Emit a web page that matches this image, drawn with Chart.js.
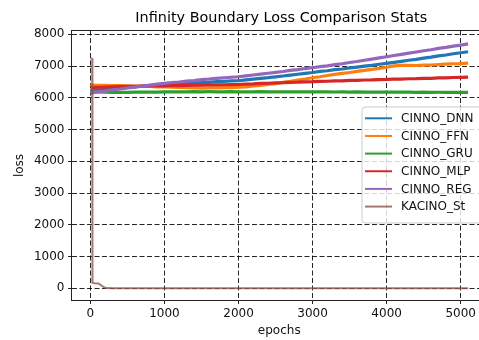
<!DOCTYPE html>
<html>
<head>
<meta charset="utf-8">
<script src="https://cdn.jsdelivr.net/npm/chart.js@4.4.0/dist/chart.umd.min.js"></script>
<style>
  html, body { margin: 0; padding: 0; background: #fff; overflow: hidden; width: 479px; height: 340px; }
  #wrap { position: absolute; left: 0; top: 0; width: 500px; height: 340px; }
</style>
</head>
<body>
<div id="wrap"><canvas id="c" width="500" height="340"></canvas></div>
<script>
const titleText = "Infinity Boundary Loss Comparison Stats";
const xLabel = "epochs";
const yLabel = "loss";
const seriesNames = ["CINNO_DNN", "CINNO_FFN", "CINNO_GRU", "CINNO_MLP", "CINNO_REG", "KACINO_St"];
const seriesColors = ["#1f77b4", "#ff7f0e", "#2ca02c", "#d62728", "#9467bd", "rgba(140,86,75,0.8)"];
const xTicks = [0, 1000, 2000, 3000, 4000, 5000];
const yTicks = [0, 1000, 2000, 3000, 4000, 5000, 6000, 7000, 8000];

const epochs = [
  0, 100, 200, 300, 400, 500, 600, 700, 800, 900,
  1000, 1100, 1200, 1300, 1400, 1500, 1600, 1700, 1800, 1900,
  2000, 2100, 2200, 2300, 2400, 2500, 2600, 2700, 2800, 2900,
  3000, 3100, 3200, 3300, 3400, 3500, 3600, 3700, 3800, 3900,
  4000, 4100, 4200, 4300, 4400, 4500, 4600, 4700, 4800, 4900,
  5000, 5100
];
const lossDNN = [
  6230, 6252, 6268, 6293, 6308, 6331, 6344, 6367, 6378, 6397,
  6409, 6428, 6438, 6457, 6463, 6482, 6489, 6507, 6513, 6532,
  6538, 6567, 6588, 6612, 6633, 6662, 6688, 6717, 6743, 6772,
  6798, 6832, 6853, 6887, 6908, 6942, 6968, 6997, 7023, 7057,
  7083, 7117, 7148, 7182, 7213, 7252, 7283, 7322, 7348, 7387,
  7418, 7450
];
const lossFFN = [
  6400, 6392, 6393, 6388, 6386, 6378, 6372, 6363, 6357, 6343,
  6341, 6333, 6327, 6318, 6316, 6308, 6312, 6313, 6322, 6323,
  6332, 6343, 6372, 6393, 6422, 6448, 6487, 6518, 6562, 6593,
  6632, 6663, 6702, 6738, 6772, 6798, 6832, 6863, 6897, 6928,
  6962, 7008, 7022, 7023, 7018, 7032, 7033, 7047, 7058, 7072,
  7078, 7092
];
const lossGRU = [
  6200, 6183, 6176, 6168, 6173, 6169, 6176, 6177, 6181, 6182,
  6186, 6187, 6191, 6188, 6193, 6189, 6192, 6190, 6188, 6193,
  6189, 6191, 6187, 6192, 6188, 6190, 6186, 6191, 6187, 6189,
  6188, 6185, 6187, 6183, 6186, 6182, 6184, 6180, 6183, 6179,
  6178, 6180, 6176, 6178, 6174, 6177, 6173, 6175, 6172, 6174,
  6171, 6170
];
const lossMLP = [
  6320, 6332, 6338, 6347, 6353, 6362, 6363, 6372, 6373, 6380,
  6379, 6387, 6386, 6394, 6395, 6402, 6403, 6410, 6411, 6418,
  6419, 6432, 6438, 6452, 6458, 6472, 6476, 6488, 6492, 6504,
  6508, 6519, 6522, 6533, 6536, 6547, 6550, 6561, 6564, 6575,
  6578, 6588, 6590, 6600, 6602, 6612, 6615, 6626, 6629, 6640,
  6643, 6650
];
const lossREG = [
  6150, 6187, 6213, 6252, 6278, 6312, 6338, 6372, 6398, 6432,
  6453, 6482, 6498, 6527, 6543, 6572, 6588, 6612, 6628, 6647,
  6663, 6692, 6718, 6747, 6773, 6802, 6828, 6862, 6888, 6922,
  6948, 6982, 7008, 7047, 7073, 7112, 7143, 7182, 7218, 7257,
  7293, 7332, 7368, 7407, 7443, 7482, 7513, 7557, 7588, 7627,
  7661, 7700
];
const kacinoEpochs = [0, 25, 28, 60, 110, 130, 170, 210, 300, 500, 1000, 2000, 3000, 4000, 5000, 5100];
const kacinoLoss   = [7240, 7230, 170, 160, 150, 120, 50, 8, 5, 4, 3, 2, 1, 1, 0, 0];

const cinnoSeries = [lossDNN, lossFFN, lossGRU, lossMLP, lossREG];

function pts(xs, ys) { return xs.map((x, i) => ({ x: x, y: ys[i] })); }

const datasets = cinnoSeries.map((s, i) => ({
  label: seriesNames[i],
  data: pts(epochs, s),
  borderColor: seriesColors[i],
  backgroundColor: seriesColors[i],
  borderWidth: 3.2,
  pointRadius: 0,
  fill: false,
  tension: 0,
  order: 6 - i
}));
datasets.push({
  label: seriesNames[5],
  data: pts(kacinoEpochs, kacinoLoss),
  borderColor: seriesColors[5],
  backgroundColor: seriesColors[5],
  borderWidth: 2,
  pointRadius: 0,
  fill: false,
  tension: 0,
  order: 1
});

const FONT = '"DejaVu Sans", sans-serif';

const overlay = {
  id: 'overlay',
  afterDraw(chart) {
    const ctx = chart.ctx;
    const a = chart.chartArea;
    ctx.save();
    ctx.strokeStyle = '#222';
    ctx.lineWidth = 1;
    ctx.setLineDash([]);
    ctx.strokeRect(a.left, a.top, a.right - a.left, a.bottom - a.top);
    ctx.fillStyle = '#000';
    ctx.font = '14.4px ' + FONT;
    ctx.textAlign = 'center';
    ctx.textBaseline = 'alphabetic';
    ctx.fillText(titleText, (a.left + a.right) / 2 + 2, 21.5);
    const lx = 362, ly = 107, lw = 140, lh = 116, r = 3;
    ctx.beginPath();
    ctx.moveTo(lx + r, ly);
    ctx.lineTo(lx + lw - r, ly);
    ctx.arcTo(lx + lw, ly, lx + lw, ly + r, r);
    ctx.lineTo(lx + lw, ly + lh - r);
    ctx.arcTo(lx + lw, ly + lh, lx + lw - r, ly + lh, r);
    ctx.lineTo(lx + r, ly + lh);
    ctx.arcTo(lx, ly + lh, lx, ly + lh - r, r);
    ctx.lineTo(lx, ly + r);
    ctx.arcTo(lx, ly, lx + r, ly, r);
    ctx.closePath();
    ctx.fillStyle = 'rgba(255,255,255,0.8)';
    ctx.fill();
    ctx.strokeStyle = '#cccccc';
    ctx.lineWidth = 1;
    ctx.stroke();
    ctx.font = '12px ' + FONT;
    ctx.textAlign = 'left';
    ctx.textBaseline = 'middle';
    chart.data.datasets.forEach((ds, i) => {
      const y = 118.3 + i * 17.65;
      ctx.strokeStyle = ds.borderColor;
      ctx.lineWidth = 2;
      ctx.beginPath();
      ctx.moveTo(365, y);
      ctx.lineTo(392, y);
      ctx.stroke();
      ctx.fillStyle = '#111';
      ctx.fillText(ds.label, 401, y + 0.5);
    });
    ctx.restore();
  }
};

new Chart(document.getElementById('c'), {
  type: 'line',
  data: { datasets: datasets },
  plugins: [overlay],
  options: {
    responsive: false,
    animation: false,
    devicePixelRatio: 1,
    layout: { padding: { left: 0, right: 13, top: 30.5, bottom: 0 } },
    plugins: { legend: { display: false }, title: { display: false }, tooltip: { enabled: false } },
    scales: {
      x: {
        type: 'linear',
        min: -255,
        max: 5355,
        afterBuildTicks: (s) => { s.ticks = xTicks.map(v => ({ value: v })); },
        afterFit: (s) => { s.height = 39.5; },
        ticks: { includeBounds: false, color: '#111', padding: 3, font: { family: FONT, size: 12 }, maxRotation: 0, callback: (v) => String(v) },
        grid: { color: 'rgba(0,0,0,0.85)', lineWidth: 1, drawTicks: true, tickLength: 3.5, tickColor: '#222', tickWidth: 1, tickBorderDash: [] },
        border: { display: false, dash: [5, 2.5] },
        title: { display: true, text: xLabel, color: '#111', font: { family: FONT, size: 12 }, padding: { top: 0, bottom: 2.3 } }
      },
      y: {
        type: 'linear',
        min: -384,
        max: 8120,
        afterBuildTicks: (s) => { s.ticks = yTicks.map(v => ({ value: v })); },
        afterFit: (s) => { s.width = 71.5; },
        ticks: { includeBounds: false, color: '#111', padding: 3.5, font: { family: FONT, size: 12 }, callback: (v) => String(v) },
        grid: { color: 'rgba(0,0,0,0.85)', lineWidth: 1, drawTicks: true, tickLength: 3.5, tickColor: '#222', tickWidth: 1, tickBorderDash: [] },
        border: { display: false, dash: [5, 2.5] },
        title: { display: true, text: yLabel, color: '#111', font: { family: FONT, size: 12 }, padding: { top: 12.8, bottom: 0 } }
      }
    }
  }
});
</script>
</body>
</html>
